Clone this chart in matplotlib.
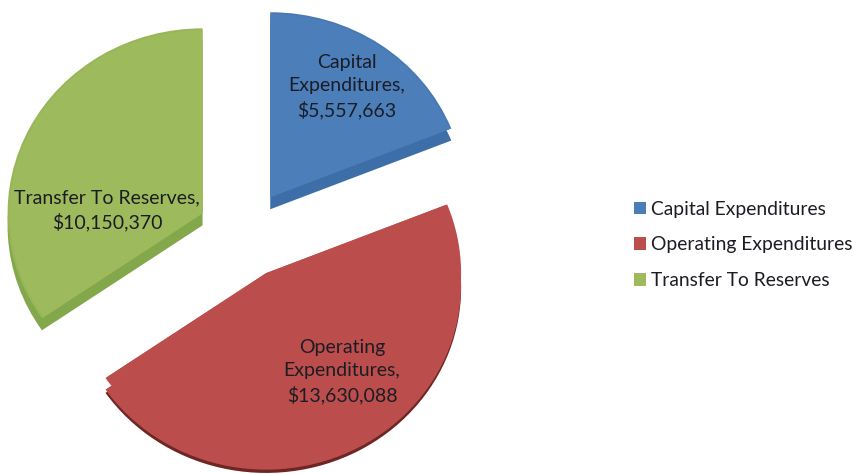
import matplotlib
matplotlib.use("Agg")
import matplotlib.pyplot as plt

plt.rcParams['font.family'] = ['Lato', 'DejaVu Sans']

categories = ["Capital Expenditures", "Operating Expenditures", "Transfer To Reserves"]
values = [5557663, 13630088, 10150370]
label_lines = ["Capital\nExpenditures,", "Operating\nExpenditures,", "Transfer To Reserves,"]

top_colors = ["#4c7fba", "#bb4e4c", "#9dbb5c"]
side_colors = ["#3d6ea8", "none", "#83a84c"]
edge_colors = ["#4879b4", "#bb4e4c", "#98b658"]
red_rim = ["none", "#6e2624", "none"]
red_fill = ["none", "#bb4e4c", "none"]

width, height = 854, 474
cx, cy = 244, 234     # pie centre in pixels
rx, ry = 195, 185     # pie radius in pixels (squashed a bit)
explode = [0.24, 0.24, 0.24]
depth = 0.065


def draw_pie(colors, offset=0, radius=1):
    return ax.pie(values, explode=explode, colors=colors, startangle=90, counterclock=False,
                  center=(0, offset), radius=radius, wedgeprops={'linewidth': 0})


fig = plt.figure(figsize=(width / 100, height / 100), dpi=100)
ax = fig.add_axes([0, 0, 1, 1])

# side of the slices first, the top goes over it
draw_pie(side_colors, -depth)
draw_pie(red_rim, -0.08)   # the red slice sits lower with only a thin dark rim
draw_pie(red_fill, -0.062)
draw_pie(edge_colors)
wedges, _ = draw_pie(top_colors, radius=0.99)

ax.set_box_aspect(None)
ax.set_aspect('auto')
ax.set_xlim(-cx / rx, (width - cx) / rx)
ax.set_ylim((cy - height) / ry, cy / ry)
ax.axis('off')

# data labels, placed in figure pixels
label_pos = [(347, 87), (342, 372), (107, 210)]
for line, val, (px, py) in zip(label_lines, values, label_pos):
    fig.text(px / width, 1 - py / height, f"{line}\n${val:,}", ha='center', va='center',
             fontsize=14, color='#1c1c24', linespacing=1.42)

ax.legend(wedges, categories, loc='center left', bbox_to_anchor=(634 / width, 1 - 245 / height),
          bbox_transform=fig.transFigure, frameon=False, fontsize=13.9, labelcolor='#1c1c24',
          handlelength=0.62, handleheight=0.62, handletextpad=0.25, labelspacing=0.98,
          borderpad=0, borderaxespad=0)

fig.savefig("out.png", dpi=100)
